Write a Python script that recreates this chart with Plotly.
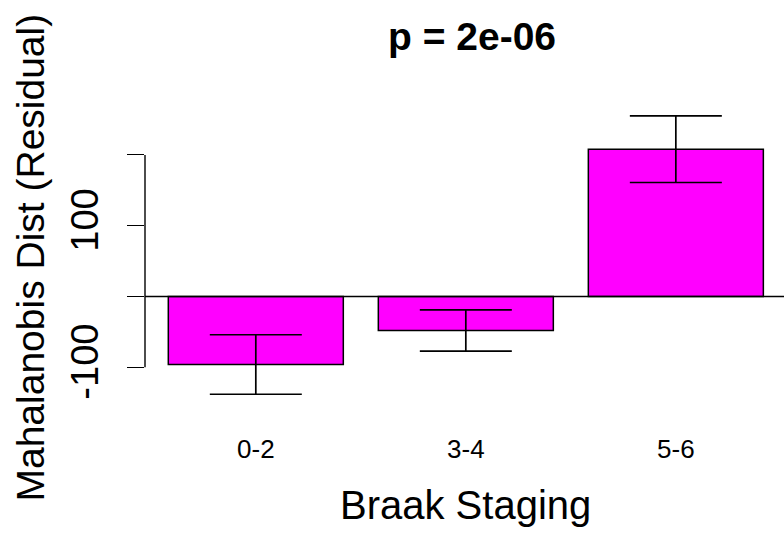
import plotly.graph_objects as go

# Braak stage groups with mean residual Mahalanobis distance and standard error
stages = ["0-2", "3-4", "5-6"]
mean_dist = [-96, -48, 208]
se_dist = [42, 29, 47]

p_label = "p = 2e-06"
y_tick_vals = [-100, 0, 100, 200]
y_tick_text = ["-100", "", "100", ""]

FONT = "Liberation Sans, Arial, Helvetica, sans-serif"
W, H = 784, 533
ML, MR, MT, MB = 145, 0, 80, 113
plot_w = W - ML - MR
plot_h = H - MT - MB

def px_x(px):
    return (px - ML) / plot_w

def px_y(py):
    return (H - MB - py) / plot_h

fig = go.Figure()
fig.add_trace(go.Bar(
    x=stages,
    y=mean_dist,
    marker=dict(color="#FF00FF", line=dict(color="black", width=1.5)),
    error_y=dict(type="data", array=se_dist, visible=True,
                 color="black", thickness=1.7, width=46),
    showlegend=False,
))

fig.update_layout(
    width=W, height=H,
    margin=dict(l=ML, r=MR, t=MT, b=MB, pad=0),
    paper_bgcolor="white", plot_bgcolor="white",
    bargap=1 - 1 / 1.2,
    font=dict(family=FONT, color="black"),
    xaxis=dict(
        type="category",
        range=[-0.5276, 2.515],
        showline=False, showgrid=False, zeroline=False,
        ticks="", tickfont=dict(size=26, family=FONT, color="black"),
        ticklabelstandoff=11,
    ),
    yaxis=dict(
        range=[-174.4, 305.8],
        showline=False, showgrid=False, zeroline=False,
        tickmode="array", tickvals=y_tick_vals, ticktext=y_tick_text,
        ticks="outside", ticklen=17, tickwidth=1.4, tickcolor="black",
        tickangle=-90,
        tickfont=dict(size=38, family=FONT, color="black"),
        ticklabelstandoff=14,
    ),
)

# y axis line spanning the tick range only, and the zero reference line
fig.add_shape(type="line", xref="paper", yref="y",
              x0=0, x1=0, y0=min(y_tick_vals), y1=max(y_tick_vals),
              line=dict(color="black", width=1.4))
fig.add_shape(type="line", xref="paper", yref="y",
              x0=0, x1=1, y0=0, y1=0,
              line=dict(color="black", width=1.4))

# titles
fig.add_annotation(text="<b>" + p_label + "</b>", xref="paper", yref="paper",
                   x=px_x(471.5), y=px_y(36.6), xanchor="center", yanchor="middle",
                   showarrow=False, font=dict(size=39, family=FONT, color="black"))
fig.add_annotation(text="Braak Staging", xref="paper", yref="paper",
                   x=px_x(465), y=px_y(505), xanchor="center", yanchor="middle",
                   showarrow=False, font=dict(size=40, family=FONT, color="black"))
fig.add_annotation(text="Mahalanobis Dist (Residual)", xref="paper", yref="paper",
                   x=px_x(30), y=px_y(257.5), xanchor="center", yanchor="middle",
                   textangle=-90, showarrow=False,
                   font=dict(size=39, family=FONT, color="black"))

fig.write_html("out.html")
